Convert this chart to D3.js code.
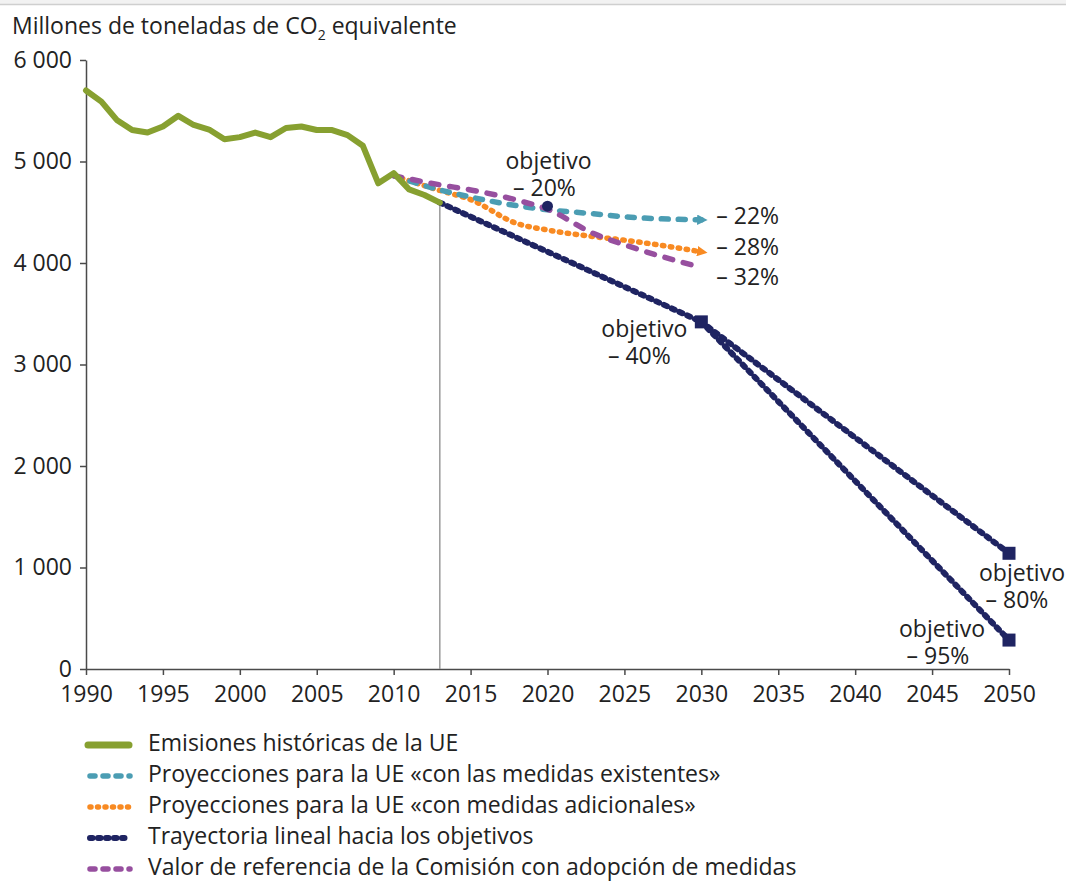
<!DOCTYPE html>
<html>
<head>
<meta charset="utf-8">
<script src="https://cdn.jsdelivr.net/npm/d3@7"></script>
<style>
  html, body { margin: 0; padding: 0; background: #fff; }
  svg { display: block; font-family: "Open Sans", "Noto Sans", sans-serif; }
</style>
</head>
<body>
<svg id="chart" width="1066" height="885"></svg>
<script>
// ---- DATA ----
const histYears = [1990,1991,1992,1993,1994,1995,1996,1997,1998,1999,2000,2001,2002,2003,2004,2005,2006,2007,2008,2009,2010,2011,2012,2013];
const histValues = [5700,5590,5410,5310,5285,5345,5450,5360,5315,5220,5240,5285,5240,5330,5345,5310,5310,5260,5155,4785,4885,4725,4670,4595];

const projYears = [2010,2013,2015,2018,2020,2023,2025,2030];
const wemValues = [4860,4720,4650,4565,4525,4485,4455,4425];
const wamValues = [4860,4715,4625,4390,4325,4260,4225,4110];
const refValues = [4860,4770,4720,4620,4530,4290,4180,3955];

const trajYears = [2013,2030];
const trajValues = [4595,3420];
const traj80Years = [2030,2050];
const traj80Values = [3420,1140];
const traj95Years = [2030,2050];
const traj95Values = [3420,285];

const targetYears = [2020,2030,2050,2050];
const targetValues = [4560,3420,1140,285];
const targetLabels = ["– 20%","– 40%","– 80%","– 95%"];

const endLabels = ["– 22%","– 28%","– 32%"];

const xTicks = [1990,1995,2000,2005,2010,2015,2020,2025,2030,2035,2040,2045,2050];
const yTicks = [0,1000,2000,3000,4000,5000,6000];

const legendLabels = [
  "Emisiones históricas de la UE",
  "Proyecciones para la UE «con las medidas existentes»",
  "Proyecciones para la UE «con medidas adicionales»",
  "Trayectoria lineal hacia los objetivos",
  "Valor de referencia de la Comisión con adopción de medidas"
];

// ---- STYLES ----
const FS = 23;
const C = {
  green: "#87a030",
  teal: "#4b9db3",
  orange: "#f88a22",
  navy: "#1f2462",
  purple: "#974f9f",
  text: "#222222",
  axis: "#4a4a4a"
};
const styles = {
  hist:   {stroke: C.green,  width: 6,   dash: null,    cap: "round"},
  wem:    {stroke: C.teal,   width: 5.5, dash: "7,10",  cap: "round"},
  wam:    {stroke: C.orange, width: 5.5, dash: "1.5,6.5", cap: "round"},
  traj:   {stroke: C.navy,   width: 6,   dash: "3,5.5", cap: "round"},
  ref:    {stroke: C.purple, width: 5.5, dash: "8,11",  cap: "round"}
};

const svg = d3.select("#chart");

// top border
svg.append("rect").attr("x",0).attr("y",0).attr("width",1066).attr("height",4).attr("fill","#f2f2f2");
svg.append("line").attr("x1",0).attr("x2",1066).attr("y1",4.5).attr("y2",4.5).attr("stroke","#cfcfcf").attr("stroke-width",1.5);

const x = d3.scaleLinear().domain([1990,2050]).range([86,1009]);
const y = d3.scaleLinear().domain([0,6000]).range([669,60]);

// title
const title = svg.append("text").attr("x",12).attr("y",34).attr("font-size",FS).attr("fill",C.text);
title.append("tspan").text("Millones de toneladas de CO");
title.append("tspan").attr("font-size",14).attr("dy",6).text("2");
title.append("tspan").attr("dy",-6).text(" equivalente");

const fmt = v => d3.format(",")(v).replace(/,/g," ");

// axes
const yAxis = svg.append("g").attr("transform",`translate(${x(1990)},0)`)
  .call(d3.axisLeft(y).tickValues(yTicks).tickFormat(fmt).tickSize(6).tickSizeOuter(0).tickPadding(8));
const xAxis = svg.append("g").attr("transform",`translate(0,${y(0)})`)
  .call(d3.axisBottom(x).tickValues(xTicks).tickFormat(d3.format("d")).tickSize(6).tickSizeOuter(0).tickPadding(11));
[yAxis,xAxis].forEach(g=>{
  g.select(".domain").attr("stroke",C.axis).attr("stroke-width",1.5);
  g.selectAll(".tick line").attr("stroke",C.axis).attr("stroke-width",1.5);
  g.selectAll(".tick text").attr("fill",C.text).attr("font-size",FS).attr("font-family","'Open Sans', sans-serif");
});

// vertical line at 2013
svg.append("line").attr("x1",x(2013)).attr("x2",x(2013)).attr("y1",y(histValues[histValues.length-1])).attr("y2",y(0))
  .attr("stroke","#9a9a9a").attr("stroke-width",1.5);

// defs: arrow markers
const defs = svg.append("defs");
function arrow(id,color){
  defs.append("marker").attr("id",id).attr("viewBox","0 0 10 10").attr("refX",4).attr("refY",5)
    .attr("markerWidth",1.9).attr("markerHeight",1.9).attr("orient","auto").attr("markerUnits","strokeWidth")
    .append("path").attr("d","M0,0 L10,5 L0,10 z").attr("fill",color);
}
arrow("arrTeal",C.teal);
arrow("arrOrange",C.orange);

const line = d3.line().x(d=>x(d[0])).y(d=>y(d[1]));
const lineCurve = d3.line().x(d=>x(d[0])).y(d=>y(d[1])).curve(d3.curveMonotoneX);
function drawSeries(xs, vs, st, gen, marker){
  const p = svg.append("path").datum(d3.zip(xs,vs)).attr("d",gen).attr("fill","none")
    .attr("stroke",st.stroke).attr("stroke-width",st.width).attr("stroke-linecap",st.cap).attr("stroke-linejoin","round");
  if(st.dash) p.attr("stroke-dasharray",st.dash);
  if(marker) p.attr("marker-end",`url(#${marker})`);
  return p;
}

// trajectories (navy)
drawSeries(trajYears, trajValues, styles.traj, line);
drawSeries(traj80Years, traj80Values, styles.traj, line);
drawSeries(traj95Years, traj95Values, styles.traj, line);
// projections
drawSeries(projYears, wamValues, styles.wam, lineCurve, "arrOrange");
drawSeries(projYears, wemValues, styles.wem, lineCurve, "arrTeal");
drawSeries(projYears, refValues, styles.ref, lineCurve);
// historical
drawSeries(histYears, histValues, styles.hist, line);

// targets
svg.append("circle").attr("cx",x(targetYears[0])).attr("cy",y(targetValues[0])).attr("r",5.5).attr("fill",C.navy);
for(let i=1;i<4;i++){
  svg.append("rect").attr("x",x(targetYears[i])-6.5).attr("y",y(targetValues[i])-6.5).attr("width",13).attr("height",13).attr("fill",C.navy);
}

// target annotations
const annPos = [
  {dx: 1,   dy: -43, pdx: -4},   // -20%
  {dx: -57, dy: 9,   pdx: -5},   // -40%
  {dx: 13,  dy: 22,  pdx: -5},   // -80%
  {dx: -67, dy: -9,  pdx: -4}    // -95%
];
targetLabels.forEach((lab,i)=>{
  const cx = x(targetYears[i]) + annPos[i].dx;
  const cy = y(targetValues[i]) + annPos[i].dy;
  svg.append("text").attr("x",cx).attr("y",cy).attr("text-anchor","middle").attr("font-size",FS)
    .attr("fill",C.text).attr("dominant-baseline","middle").text("objetivo");
  svg.append("text").attr("x",cx + annPos[i].pdx).attr("y",cy+27).attr("text-anchor","middle").attr("font-size",FS)
    .attr("fill",C.text).attr("dominant-baseline","middle").text(lab);
});

// end labels
const endVals = [wemValues[wemValues.length-1], wamValues[wamValues.length-1], refValues[refValues.length-1]];
const endOffsets = [-2, -3, 11];
endLabels.forEach((lab,i)=>{
  svg.append("text").attr("x",x(2030)+15).attr("y",y(endVals[i])+endOffsets[i]).attr("font-size",FS)
    .attr("fill",C.text).attr("dominant-baseline","middle").text(lab);
});

// legend
const legendStyles = [styles.hist, styles.wem, styles.wam, styles.traj, styles.ref];
const legDash = [null, "5,8", "1,6.5", "2.5,5.5", "5,8"];
legendLabels.forEach((lab,i)=>{
  const ly = 745 + i*31;
  const st = legendStyles[i];
  const l = svg.append("line").attr("x1",i===0?88:90).attr("x2",i===0?129:130).attr("y1",ly).attr("y2",ly)
    .attr("stroke",st.stroke).attr("stroke-width",i===0?7:st.width).attr("stroke-linecap",i===0?"round":st.cap);
  if(legDash[i]) l.attr("stroke-dasharray",legDash[i]);
  svg.append("text").attr("x",148).attr("y",ly).attr("dominant-baseline","middle").attr("font-size",FS)
    .attr("fill",C.text).text(lab);
});
</script>
</body>
</html>
